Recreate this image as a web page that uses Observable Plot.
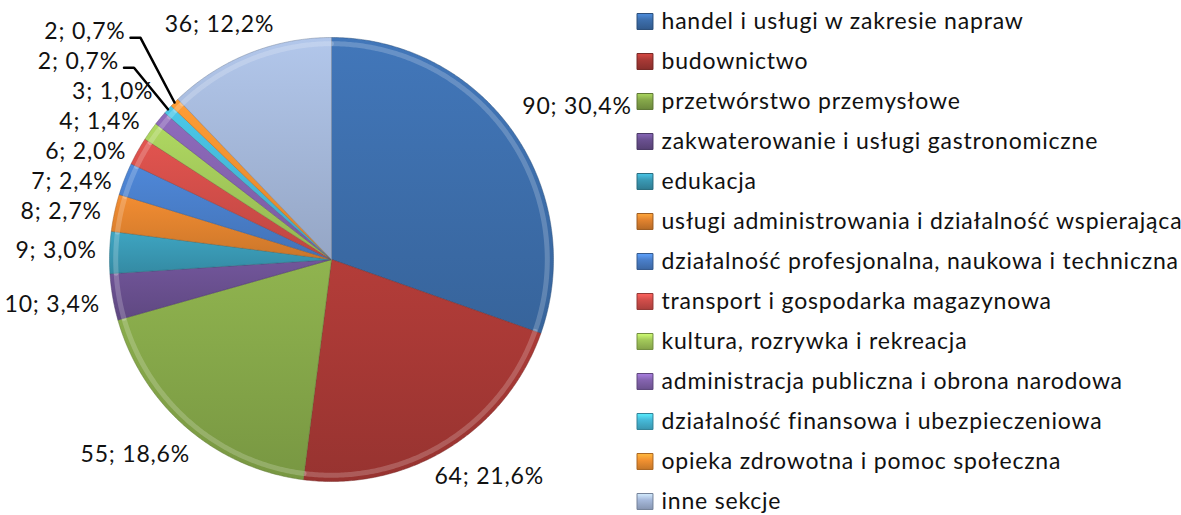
<!DOCTYPE html>
<html>
<head>
<meta charset="utf-8">
<script src="https://cdn.jsdelivr.net/npm/d3@7"></script>
<script src="https://cdn.jsdelivr.net/npm/@observablehq/plot@0.6"></script>
<style>
  html, body { margin: 0; padding: 0; background: #fff; }
  #chart { display: flex; width: 1181px; height: 515px; overflow: hidden; }
  #chart svg { display: block; overflow: visible; }
  #chart text { letter-spacing: 0.8px; }
</style>
</head>
<body>
<div id="chart"></div>
<script>
// ---------- data ----------
const categories = [
  "handel i usługi w zakresie napraw",
  "budownictwo",
  "przetwórstwo przemysłowe",
  "zakwaterowanie i usługi gastronomiczne",
  "edukacja",
  "usługi administrowania i działalność wspierająca",
  "działalność profesjonalna, naukowa i techniczna",
  "transport i gospodarka magazynowa",
  "kultura, rozrywka i rekreacja",
  "administracja publiczna i obrona narodowa",
  "działalność finansowa i ubezpieczeniowa",
  "opieka zdrowotna i pomoc społeczna",
  "inne sekcje"
];
const values = [90, 64, 55, 10, 9, 8, 7, 6, 4, 3, 2, 2, 36];
const colors = [
  "#3d6fad", "#a83935", "#86a84a", "#6a5090", "#3a9ab5", "#e2832f",
  "#4a7fca", "#d24e4a", "#a3c95a", "#8564b0", "#46bad9", "#f39231", "#a6b9db"
];

// ---------- layout constants ----------
const W = 1181, H = 515, PIE_W = 630, LEG_W = W - PIE_W;
const CX = 331, CY = 259, RPX = 222, RLAB = 235;
const FONT = "Lato, sans-serif", FS = 23, LS = 0.8;

const total = d3.sum(values);
const pct = v => (v / total * 100).toFixed(1).replace(".", ",");
const labels = values.map(v => `${v}; ${pct(v)}%`);

const arcs = d3.pie().sort(null).value(d => d)(values);

// pixel <-> pie units (unit circle, y up)
const toX = px => (px - CX) / RPX;
const toY = py => (CY - py) / RPX;

// ---------- slices ----------
const sliceMarks = arcs.flatMap((a, i) => {
  const n = Math.max(3, Math.ceil((a.endAngle - a.startAngle) / (Math.PI / 360)));
  const ring = d3.range(n + 1).map(k => a.startAngle + (a.endAngle - a.startAngle) * k / n);
  const poly = [{x: 0, y: 0}, ...ring.map(t => ({x: Math.sin(t), y: Math.cos(t)})), {x: 0, y: 0}];
  const rim = ring.map(t => ({x: 0.972 * Math.sin(t), y: 0.972 * Math.cos(t)}));
  return [
    Plot.line(poly, {x: "x", y: "y", fill: `url(#slice${i})`,
      stroke: d3.color(colors[i]).darker(1).formatHex(), strokeWidth: 0.8, strokeOpacity: 0.6}),
    Plot.line(rim, {x: "x", y: "y", stroke: "#ffffff", strokeOpacity: 0.2, strokeWidth: 5})
  ];
});

// ---------- label layout ----------
const ctx = document.createElement("canvas").getContext("2d");
ctx.font = `${FS}px ${FONT}`;
const textW = s => ctx.measureText(s).width + LS * s.length;
const clamp = (v, a, b) => Math.max(a, Math.min(b, v));

const L = arcs.map((a, i) => {
  const th = (a.startAngle + a.endAngle) / 2;
  const ux = Math.sin(th), uy = -Math.cos(th);
  const w = textW(labels[i]);
  const px = CX + RLAB * ux, py = CY + RLAB * uy;
  const cy = py + 17 * clamp(2 * uy, -1, 1);
  return {i, ux, uy, w, cx: px + w / 2 * clamp(1.2 * ux, -1, 1), cy, cy0: cy,
          ax: CX + RPX * ux, ay: CY + RPX * uy};
});

function spread(items, s) {
  items.sort((a, b) => a.cy0 - b.cy0);
  let clusters = items.map(d => ({items: [d], mean: d.cy0}));
  let merged = true;
  while (merged) {
    merged = false;
    for (let k = 0; k < clusters.length - 1; k++) {
      const A = clusters[k], B = clusters[k + 1];
      const aBottom = A.mean + (A.items.length - 1) * s / 2;
      const bTop = B.mean - (B.items.length - 1) * s / 2;
      if (bTop - aBottom < s) {
        const its = A.items.concat(B.items);
        clusters.splice(k, 2, {items: its, mean: d3.mean(its, d => d.cy0)});
        merged = true;
        break;
      }
    }
  }
  clusters.forEach(c => c.items.forEach((d, j) => { d.cy = c.mean + (j - (c.items.length - 1) / 2) * s; }));
}
spread(L.filter(d => d.ux < -0.5), 30);

const leaderPts = [];
L.forEach(d => {
  const bx = d.cx + d.w / 2;
  const dx = Math.max(d.ax - bx, 0);
  const dy = Math.max(Math.abs(d.ay - d.cy) - 10, 0);
  if (d.ux < 0 && Math.hypot(dx, dy) > 30) {
    d.cx = d.ax - 49 - d.w / 2;
    const ex = d.cx + d.w / 2 + 5, ey = d.cy + 6;
    leaderPts.push({i: d.i, px: ex, py: ey}, {i: d.i, px: ex + 10, py: ey}, {i: d.i, px: d.ax, py: d.ay});
  }
});

const pie = Plot.plot({
  width: PIE_W, height: H, margin: 0,
  x: {domain: [toX(0), toX(PIE_W)], axis: null},
  y: {domain: [toY(H), toY(0)], axis: null},
  marks: [
    ...sliceMarks,
    Plot.line(leaderPts, {x: d => toX(d.px), y: d => toY(d.py), z: "i", stroke: "#000", strokeWidth: 2.5}),
    Plot.text(L, {x: d => toX(d.cx), y: d => toY(d.cy), text: d => labels[d.i],
      fontSize: FS, fontFamily: FONT, textAnchor: "middle", lineAnchor: "middle", fill: "#111"})
  ]
});

// gradients
const defs = d3.create("svg:defs");
colors.forEach((c, i) => {
  const g = defs.append("linearGradient").attr("id", `slice${i}`)
    .attr("x1", 0).attr("y1", 0).attr("x2", 0).attr("y2", 1);
  g.append("stop").attr("offset", "0%").attr("stop-color", d3.color(c).brighter(0.2).formatHex());
  g.append("stop").attr("offset", "100%").attr("stop-color", d3.color(c).darker(0.3).formatHex());
  const s = defs.append("linearGradient").attr("id", `sw${i}`)
    .attr("x1", 0).attr("y1", 0).attr("x2", 0).attr("y2", 1);
  s.append("stop").attr("offset", "0%").attr("stop-color", d3.color(c).brighter(0.7).formatHex());
  s.append("stop").attr("offset", "40%").attr("stop-color", c);
  s.append("stop").attr("offset", "100%").attr("stop-color", d3.color(c).darker(0.6).formatHex());
});
pie.prepend(defs.node());

// ---------- legend ----------
const legendData = categories.map((c, i) => ({c, i}));
const legend = Plot.plot({
  width: LEG_W, height: H, margin: 0,
  y: {type: "point", domain: categories, range: [20, 502], padding: 0, axis: null},
  color: {type: "identity"},
  marks: [
    Plot.dot(legendData, {y: "c", frameAnchor: "left", dx: 14.5, symbol: "square", r: 9,
      fill: d => `url(#sw${d.i})`, stroke: d => d3.color(colors[d.i]).darker(1).formatHex(), strokeWidth: 1}),
    Plot.text(legendData, {y: "c", text: "c", frameAnchor: "left", dx: 31, textAnchor: "start",
      lineAnchor: "middle", fontSize: FS, fontFamily: FONT, fill: "#111"})
  ]
});

document.getElementById("chart").append(pie, legend);
</script>
</body>
</html>
